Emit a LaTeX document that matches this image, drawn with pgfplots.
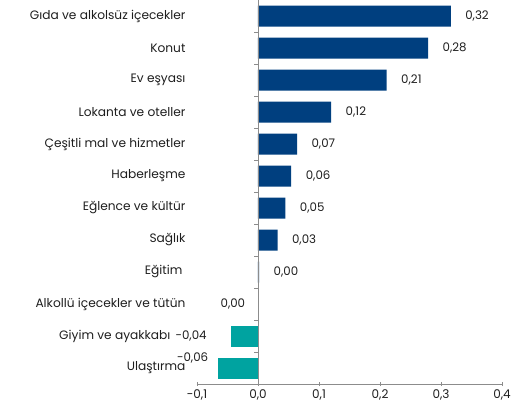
\documentclass[border=0pt]{standalone}
\usepackage{pgfplots}
\pgfplotsset{compat=1.18}
\usepackage{fontspec}
\setmainfont{Poppins}
\definecolor{barblue}{RGB}{0,63,127}
\definecolor{barteal}{RGB}{0,163,160}
\definecolor{axgray}{RGB}{140,140,140}
\definecolor{txt}{RGB}{30,30,30}
\begin{document}
\begin{tikzpicture}[x=1pt,y=1pt]
\useasboundingbox (-197,-28) rectangle (315,384);
\begin{axis}[
  at={(0,0)}, anchor=south west,
  scale only axis, width=305pt, height=384pt,
  xbar, bar width=21pt, bar shift=0pt,
  xmin=-0.1, xmax=0.4, ymin=-0.5, ymax=11.5, y dir=reverse,
  axis x line=bottom, axis y line=left,
  x axis line style={draw=axgray, -},
  y axis line style={draw=none},
  xtick={-0.1,0,0.1,0.2,0.3,0.4},
  xticklabels={{-0,1},{0,0},{0,1},{0,2},{0,3},{0,4}},
  xtick style={draw=axgray, thin},
  tick align=center, major tick length=4pt,
  ytick={0,...,11},
  ytick style={draw=none},
  yticklabels={Gıda ve alkolsüz içecekler, Konut, Ev eşyası, Lokanta ve oteller, Çeşitli mal ve hizmetler, Haberleşme, Eğlence ve kültür, Sağlık, Eğitim\kern3pt, Alkollü içecekler ve tütün, Giyim ve ayakkabı\kern15pt, Ulaştırma},
  yticklabel style={anchor=east, xshift=-6pt, font=\fontsize{12.2}{14}\selectfont, text=txt},
  xticklabel style={font=\fontsize{12}{14}\selectfont, text=txt},
  point meta=explicit symbolic,
  nodes near coords,
  every node near coord/.append style={font=\fontsize{11.8}{14}\selectfont, text=txt},
  clip=false,
]
\addplot[fill=barblue, draw=none, nodes near coords style={anchor=west, xshift=11pt}] table[meta=lab] {
x y lab
0.316 0 0,32
0.279 1 0,28
0.211 2 0,21
0.120 3 0,12
0.064 4 0,07
0.0545 5 0,06
0.045 6 0,05
0.032 7 0,03
0.002 8 0,00
};
\addplot[fill=barteal, draw=none, nodes near coords style={anchor=east, xshift=-9pt}] table[meta=lab] {
x y lab
-0.0005 9 0,00
};
\addplot[fill=barteal, draw=none, nodes near coords style={anchor=east, xshift=-21pt}] table[meta=lab] {
x y lab
-0.044 10 -0,04
};
\addplot[fill=barteal, draw=none, nodes near coords style={anchor=east, xshift=-6pt, yshift=10pt}] table[meta=lab] {
x y lab
-0.066 11 -0,06
};
\draw[axgray] (axis cs:0,-0.5) -- (axis cs:0,11.5);
\pgfplotsinvokeforeach{0.5,1.5,2.5,3.5,4.5,5.5,6.5,7.5,8.5,9.5,10.5}{
  \draw[axgray] (axis cs:0,#1) -- ++(-4pt,0pt);
}
\end{axis}
\end{tikzpicture}
\end{document}
